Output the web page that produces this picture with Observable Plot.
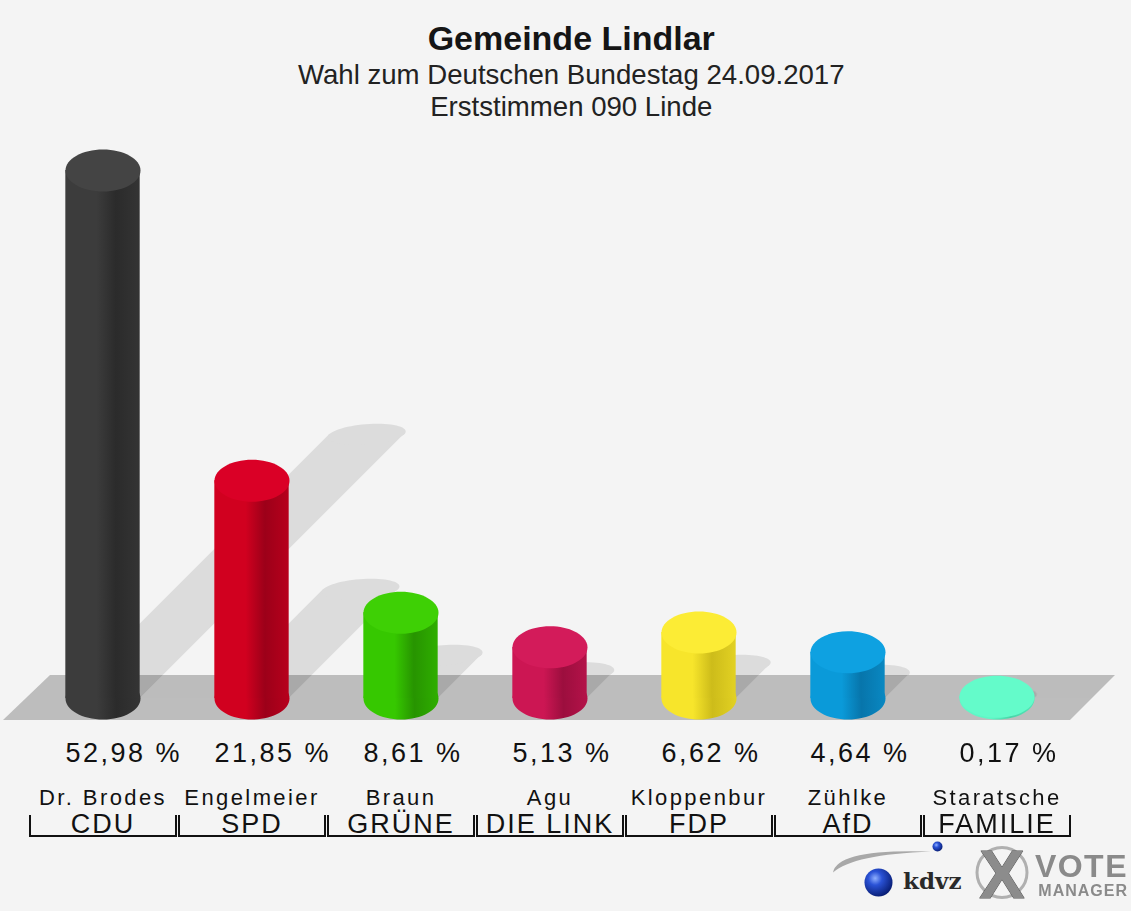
<!DOCTYPE html>
<html>
<head>
<meta charset="utf-8">
<script src="https://cdn.jsdelivr.net/npm/d3@7"></script>
<script src="https://cdn.jsdelivr.net/npm/@observablehq/plot@0.6"></script>
<style>
html, body { margin: 0; padding: 0; background: #f4f4f4; overflow: hidden; }
#chart svg { display: block; }
</style>
</head>
<body>
<div id="chart"></div>
<script>
// ---- data ----
const parties = ["CDU", "SPD", "GRÜNE", "DIE LINK", "FDP", "AfD", "FAMILIE"];
const candidates = ["Dr. Brodes", "Engelmeier", "Braun", "Agu", "Kloppenbur", "Zühlke", "Staratsche"];
const shares = [52.98, 21.85, 8.61, 5.13, 6.62, 4.64, 0.17];
const baseColors = ["#3c3c3c", "#d1001f", "#36c800", "#cc1653", "#f7e52b", "#0a9ad9", "#5ff7c6"];
const darkColors = ["#2b2b2b", "#9c0019", "#279400", "#9c0e3e", "#cdbc1a", "#0775ab", "#49d4a8"];
const topColors = ["#444444", "#da0026", "#3ed005", "#d31b5a", "#fcec35", "#0ea1e1", "#64fbca"];
const title = "Gemeinde Lindlar";
const subtitle = "Wahl zum Deutschen Bundestag 24.09.2017";
const subtitle2 = "Erststimmen 090 Linde";

const data = parties.map((p, i) => ({party: p, candidate: candidates[i], share: shares[i], i}));

// ---- geometry constants ----
const W = 1131, H = 911;
const mL = 26, mR = 57.5, mT = 100, mB = 213;
const CYL_W = 75, RX = CYL_W / 2, RY = 21;
const band = (W - mL - mR) / parties.length;
const inset = (band - CYL_W) / 2;
const FONT = "Liberation Sans, Arial, Helvetica, sans-serif";
const SVGNS = "http://www.w3.org/2000/svg";

function ellipseSymbol(rx, ry, half) {
  const k = 0.5522847498;
  return {
    draw(ctx) {
      ctx.moveTo(-rx, 0);
      ctx.bezierCurveTo(-rx, -ry * k, -rx * k, -ry, 0, -ry);
      ctx.bezierCurveTo(rx * k, -ry, rx, -ry * k, rx, 0);
      if (!half) {
        ctx.bezierCurveTo(rx, ry * k, rx * k, ry, 0, ry);
        ctx.bezierCurveTo(-rx * k, ry, -rx, ry * k, -rx, 0);
      }
      ctx.closePath();
    }
  };
}
const swooshSymbol = {
  draw(ctx) {
    ctx.moveTo(-48, 14);
    ctx.quadraticCurveTo(-44, -10, 50, -7);
    ctx.quadraticCurveTo(-28, -4, -48, 14);
    ctx.closePath();
  }
};

// defs: gradients
function defsMark() {
  const defs = d3.create("svg:defs");
  data.forEach((d) => {
    const g = defs.append("linearGradient").attr("id", `body-${d.i}`)
      .attr("x1", "0").attr("x2", "1").attr("y1", "0").attr("y2", "0");
    const mid = d3.interpolateRgb(baseColors[d.i], darkColors[d.i])(0.5);
    g.append("stop").attr("offset", "0").attr("stop-color", baseColors[d.i]);
    g.append("stop").attr("offset", "0.42").attr("stop-color", baseColors[d.i]);
    g.append("stop").attr("offset", "0.68").attr("stop-color", darkColors[d.i]);
    g.append("stop").attr("offset", "1").attr("stop-color", mid);
  });
  const rg = defs.append("radialGradient").attr("id", "sphere").attr("cx", "0.38").attr("cy", "0.35").attr("r", "0.7");
  rg.append("stop").attr("offset", "0").attr("stop-color", "#8fb0ff");
  rg.append("stop").attr("offset", "0.35").attr("stop-color", "#2a52d6");
  rg.append("stop").attr("offset", "1").attr("stop-color", "#061a6e");
  return defs.node();
}

function backgroundMark(index, scales, values, dims) {
  return d3.create("svg:rect").attr("width", dims.width).attr("height", dims.height).attr("fill", "#f4f4f4").node();
}

function floorPath(scales, dims) {
  const yb = scales.y(0);
  const L = dims.marginLeft, R = dims.width - dims.marginRight;
  const top = yb - 23, bot = yb + 22;
  return `M${L - 23},${bot}L${L + 24},${top}L${R + 41.5},${top}L${R - 3.5},${bot}Z`;
}
function floorMark(index, scales, values, dims) {
  const g = d3.create("svg:g");
  const d = floorPath(scales, dims);
  g.append("clipPath").attr("id", "floorclip").append("path").attr("d", d);
  g.append("path").attr("d", d).attr("fill", "#bdbdbd");
  return g.node();
}

function bracketMark(index, scales, values, dims) {
  const yb = scales.y(0);
  const bw = typeof scales.x.bandwidth === "function" ? scales.x.bandwidth()
    : (dims.width - dims.marginLeft - dims.marginRight) / parties.length;
  const g = d3.create("svg:g").attr("stroke", "#111").attr("stroke-width", 2).attr("fill", "none");
  for (const p of parties) {
    const x0 = scales.x(p) + 2, x1 = scales.x(p) + bw - 1;
    g.append("path").attr("d", `M${x0},${yb + 117}V${yb + 138}H${x1}V${yb + 117}`);
  }
  return g.node();
}

// projects a mark onto the wall as a 45° cast shadow
const shear = (onFloor) => (index, scales, values, dims, ctx, next) => {
  const node = next(index, scales, values, dims, ctx);
  const yb = scales.y(0);
  const g = document.createElementNS(SVGNS, "g");
  g.setAttribute("transform", `matrix(1 0 -0.5 0.5 ${0.5 * yb} ${0.5 * yb})`);
  g.appendChild(node);
  if (!onFloor) return g;
  const outer = document.createElementNS(SVGNS, "g");
  outer.setAttribute("clip-path", "url(#floorclip)");
  outer.setAttribute("opacity", "0.1");
  outer.appendChild(g);
  return outer;
};
const spacing = (px) => (index, scales, values, dims, ctx, next) => {
  const node = next(index, scales, values, dims, ctx);
  node.setAttribute("letter-spacing", px);
  return node;
};

const fmt = (v) => v.toFixed(2).replace(".", ",") + " %";

const chart = Plot.plot({
  width: W,
  height: H,
  marginLeft: mL,
  marginRight: mR,
  marginTop: mT,
  marginBottom: mB,
  style: {background: "#f4f4f4", fontFamily: FONT},
  x: {type: "band", domain: parties, padding: 0, axis: null},
  y: {domain: [0, 60], axis: null},
  color: {type: "identity"},
  marks: [
    defsMark,
    backgroundMark,
    // shadows on the wall
    Plot.barY(data, {x: "party", y: "share", fill: "#dcdcdc", insetLeft: inset, insetRight: inset, render: shear(false)}),
    Plot.dot(data, {x: "party", y: "share", fill: "#dcdcdc", symbol: ellipseSymbol(RX, RY, false), render: shear(false)}),
    floorMark,
    // shadows on the floor
    Plot.barY(data, {x: "party", y: "share", fill: "#000", insetLeft: inset, insetRight: inset, render: shear(true)}),
    Plot.dot(data, {x: "party", y: "share", fill: "#000", symbol: ellipseSymbol(RX, RY, true), render: shear(true)}),
    // cylinders
    Plot.dot(data, {x: "party", y: () => 0, fill: (d) => `url(#body-${d.i})`, symbol: ellipseSymbol(RX, RY, false)}),
    Plot.barY(data, {x: "party", y: "share", fill: (d) => `url(#body-${d.i})`, insetLeft: inset, insetRight: inset}),
    Plot.dot(data, {x: "party", y: "share", fill: (d) => topColors[d.i], symbol: ellipseSymbol(RX, RY, false)}),
    // labels
    Plot.text(data, {x: "party", text: (d) => fmt(d.share), frameAnchor: "bottom", lineAnchor: "bottom",
      textAnchor: "start", dx: -RX, dy: 63, fontSize: 27, fill: "#111", render: spacing(2.5)}),
    Plot.text(data, {x: "party", text: "candidate", frameAnchor: "bottom", lineAnchor: "bottom",
      dy: 106, fontSize: 22, fill: "#111", render: spacing(2.4)}),
    Plot.text(data, {x: "party", text: "party", frameAnchor: "bottom", lineAnchor: "bottom",
      dy: 134, fontSize: 27, fill: "#111", render: spacing(2)}),
    bracketMark,
    // titles
    Plot.text([title], {frameAnchor: "top", lineAnchor: "bottom", dx: 21, dy: -51, fontSize: 34,
      fontWeight: "bold", fill: "#151515"}),
    Plot.text([subtitle], {frameAnchor: "top", lineAnchor: "bottom", dx: 21, dy: -17, fontSize: 27.6, fill: "#222"}),
    Plot.text([subtitle2], {frameAnchor: "top", lineAnchor: "bottom", dx: 21, dy: 15, fontSize: 27.6, fill: "#222"}),
    // logo
    Plot.dot([0], {frameAnchor: "bottom-right", dx: -193, dy: 160, fill: "#a8a8a8", symbol: swooshSymbol}),
    Plot.dot([0], {frameAnchor: "bottom-right", dx: -195.5, dy: 184, r: 14, fill: "url(#sphere)"}),
    Plot.dot([0], {frameAnchor: "bottom-right", dx: -136.5, dy: 148, r: 5, fill: "url(#sphere)"}),
    Plot.text(["kdvz"], {frameAnchor: "bottom-right", textAnchor: "start", lineAnchor: "bottom", dx: -171, dy: 190,
      fontSize: 23, fontWeight: "bold", fontFamily: "DejaVu Serif, serif", fill: "#2a2a2a"}),
    Plot.dot([0], {frameAnchor: "bottom-right", dx: -72, dy: 174, r: 25, fill: "none", stroke: "#b0b0b0", strokeWidth: 3}),
    Plot.text(["X"], {frameAnchor: "bottom-right", textAnchor: "middle", lineAnchor: "bottom", dx: -72, dy: 199,
      fontSize: 68, fontWeight: "bold", fill: "#8c8c8c", stroke: "#555", strokeWidth: 1}),
    Plot.text(["VOTE"], {frameAnchor: "bottom-right", textAnchor: "end", lineAnchor: "bottom", dx: 54, dy: 178,
      fontSize: 32, fontWeight: "bold", fill: "#8a8a8a", render: spacing(1.5)}),
    Plot.text(["MANAGER"], {frameAnchor: "bottom-right", textAnchor: "end", lineAnchor: "bottom", dx: 54, dy: 197,
      fontSize: 16, fontWeight: "bold", fill: "#8a8a8a", render: spacing(1)})
  ]
});
document.getElementById("chart").appendChild(chart);
</script>
</body>
</html>
